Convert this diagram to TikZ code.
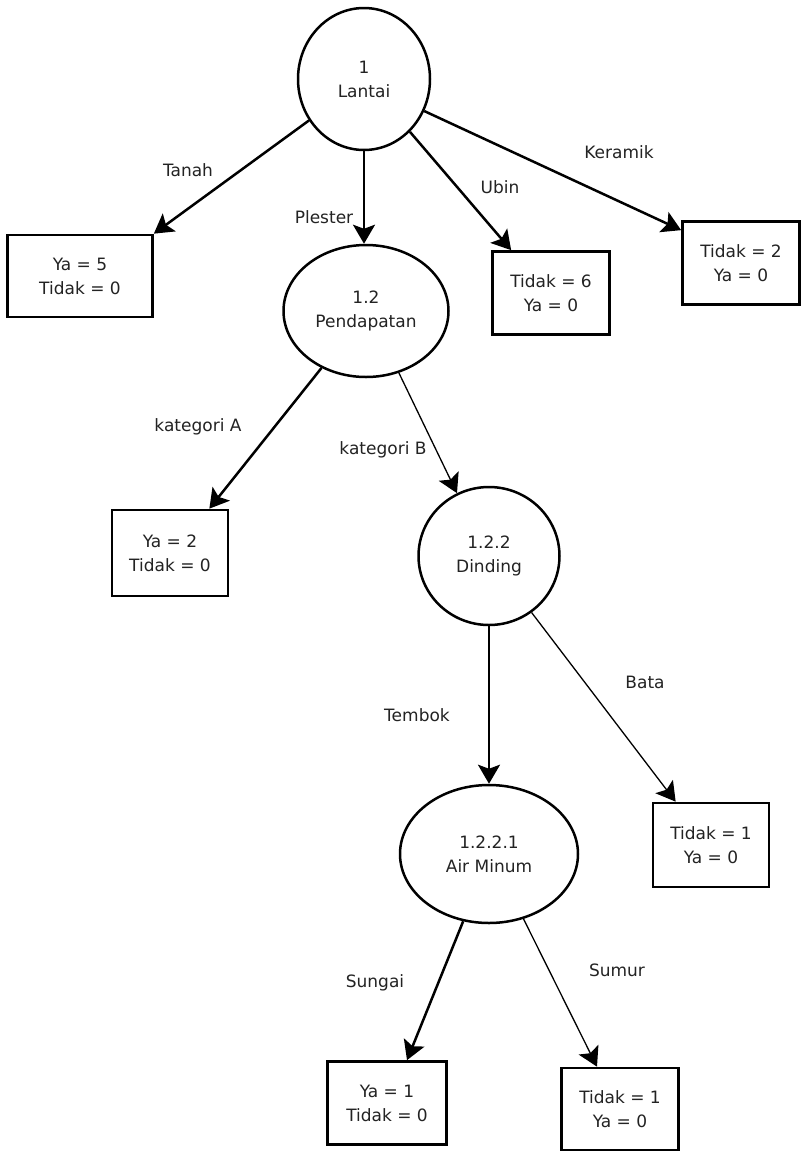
\documentclass[tikz,border=0pt]{standalone}
\usepackage{fontspec}
\setmainfont{DejaVu Sans}
\usepackage{tikz}
\usetikzlibrary{arrows.meta, positioning, shapes}
\usepackage{xcolor}
\definecolor{inkgray}{RGB}{35,35,35}

\begin{document}
\begin{tikzpicture}[x=1pt, y=-1pt,
  font=\fontsize{17}{24}\selectfont,
  attr/.style={ellipse, draw, line width=2.5pt, inner sep=0pt, align=center, text=inkgray},
  leaf/.style={rectangle, draw, line width=2.7pt, inner sep=0pt, align=center, text=inkgray,
    minimum width=117pt, minimum height=83pt},
  lbl/.style={text=inkgray, inner sep=1pt},
  thickarr/.style={-{Stealth[length=19pt, width=22pt, inset=4pt]}, line width=2.5pt},
  thinarr/.style={-{Stealth[length=19pt, width=22pt, inset=4pt]}, line width=1.3pt}]
  \useasboundingbox[fill=white] (0,0) rectangle (802,1152);

  % attribute nodes
  \node[attr, minimum width=132pt, minimum height=142pt] (lantai) at (364,79) {1\\Lantai};
  \node[attr, minimum width=165pt, minimum height=132pt] (pendapatan) at (366,311) {1.2\\Pendapatan};
  \node[attr, minimum width=141pt, minimum height=138pt] (dinding) at (489,556) {1.2.2\\Dinding};
  \node[attr, minimum width=178pt, minimum height=138pt] (airminum) at (489,854) {1.2.2.1\\Air Minum};

  % leaves
  \node[leaf, minimum width=145pt, minimum height=82pt] (tanah) at (80,276) {Ya = 5\\Tidak = 0};
  \node[leaf] (ubin) at (551,293) {Tidak = 6\\Ya = 0};
  \node[leaf] (keramik) at (741,263) {Tidak = 2\\Ya = 0};
  \node[leaf, minimum width=116pt, minimum height=86pt] (kata) at (170,553) {Ya = 2\\Tidak = 0};
  \node[leaf, minimum width=116pt, minimum height=84pt] (bata) at (711,845) {Tidak = 1\\Ya = 0};
  \node[leaf, minimum width=119pt] (sungai) at (387,1103) {Ya = 1\\Tidak = 0};
  \node[leaf, minimum height=82pt] (sumur) at (620,1109) {Tidak = 1\\Ya = 0};

  % branches
  \draw[thickarr] (lantai.217) -- (tanah.north east);
  \draw[thickarr] (lantai.south) -- (lantai.south |- pendapatan.north);
  \draw[thickarr] (lantai.311) -- ([xshift=20pt]ubin.north west);
  \draw[thickarr] (lantai.332) -- ([yshift=-10pt]keramik.north west);
  \draw[thickarr] (pendapatan.232) -- ([xshift=-20pt]kata.north east);
  \draw[thinarr] (pendapatan.298) -- (dinding.117);
  \draw[thickarr] (dinding.south) -- (airminum.north);
  \draw[thinarr] (dinding.307) -- ([xshift=24pt]bata.north west);
  \draw[thickarr] (airminum.249) -- ([xshift=20pt]sungai.north);
  \draw[thinarr] (airminum.298) -- ([xshift=-23pt]sumur.north);

  % branch labels
  \node[lbl] (ltanah) at (188,170) {Tanah};
  \node[lbl] (lplester) at (324,217) {Plester};
  \node[lbl] (lubin) at (500,187) {Ubin};
  \node[lbl] (lkeramik) at (619,152) {Keramik};
  \node[lbl] (lkata) at (198,427) {kategori A};
  \node[lbl] (lkatb) at (383,450) {kategori B};
  \node[lbl] (ltembok) at (417,715) {Tembok};
  \node[lbl] (lbata) at (645,682) {Bata};
  \node[lbl] (lsungai) at (375,983) {Sungai};
  \node[lbl] (lsumur) at (617,970) {Sumur};
\end{tikzpicture}
\end{document}
